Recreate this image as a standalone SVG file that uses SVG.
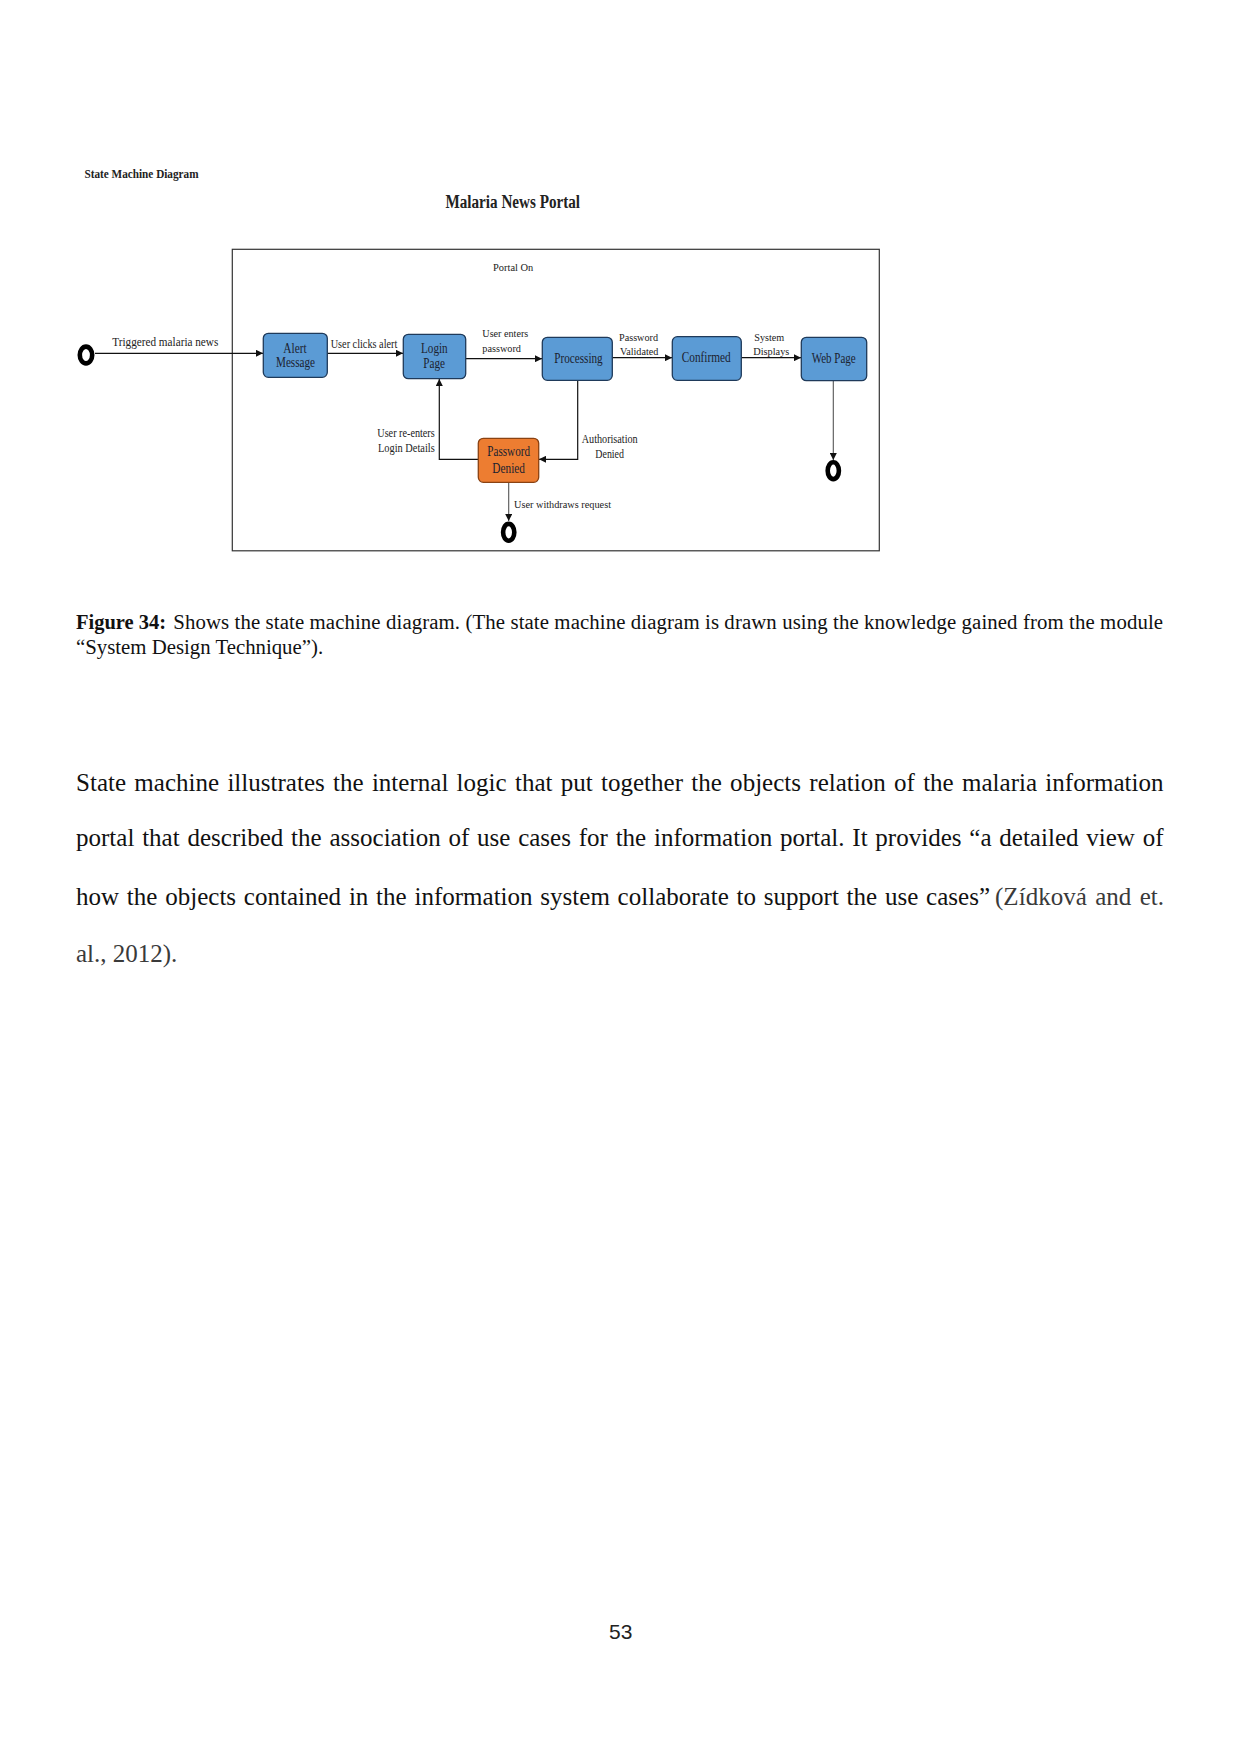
<svg xmlns="http://www.w3.org/2000/svg" width="1241" height="1754" viewBox="0 0 1241 1754">
<style>
.dg{font-family:"Liberation Serif","Times New Roman",serif;fill:#222}
.nl{font-size:14px;fill:#1b2230}
.state{fill:#5b9bd5;stroke:#1f3a5a;stroke-width:1.3}
.deny{fill:#ed7d31;stroke:#8a4212;stroke-width:1.3}
.conn{fill:none;stroke:#111;stroke-width:1.2}
.conng{fill:none;stroke:#555;stroke-width:1.1}
.body{font-family:"Liberation Serif","Times New Roman",serif;fill:#111}
.ring{fill:#fff;stroke:#000;stroke-width:4.6}
</style>
<defs>
<marker id="ah" markerUnits="userSpaceOnUse" markerWidth="7" markerHeight="7" refX="7" refY="3.5" orient="auto">
<path d="M0,0 L7,3.5 L0,7 z" fill="#111"/>
</marker>
</defs>
<rect width="1241" height="1754" fill="#fff"/>

<text class="dg" x="84.5" y="178.3" font-size="12.5" font-weight="bold" textLength="114" lengthAdjust="spacingAndGlyphs">State Machine Diagram</text>
<text class="dg" x="445.5" y="208.3" font-size="18.5" font-weight="bold" textLength="134.5" lengthAdjust="spacingAndGlyphs">Malaria News Portal</text>

<g id="frame">
<rect x="232.3" y="249.3" width="647" height="301.5" fill="none" stroke="#333" stroke-width="1.2"/>
<text class="dg" x="493" y="270.7" font-size="11" textLength="40.3" lengthAdjust="spacingAndGlyphs">Portal On</text>
</g>

<g id="connectors">
<path class="conn" d="M95,353.3 H263" marker-end="url(#ah)"/>
<path class="conn" d="M327.3,353.3 H403" marker-end="url(#ah)"/>
<path class="conn" d="M465.7,358.7 H542" marker-end="url(#ah)"/>
<path class="conn" d="M612.3,357.7 H672" marker-end="url(#ah)"/>
<path class="conn" d="M741.3,357.7 H801" marker-end="url(#ah)"/>
<path class="conn" d="M577.7,380.3 V459.3 H539" marker-end="url(#ah)"/>
<path class="conn" d="M478.3,459.3 H439.3 V379" marker-end="url(#ah)"/>
<path class="conng" d="M508.7,482.3 V521" marker-end="url(#ah)"/>
<path class="conng" d="M833.3,380.7 V460" marker-end="url(#ah)"/>
<text class="dg" x="112.3" y="345.7" font-size="12.5" textLength="106" lengthAdjust="spacingAndGlyphs">Triggered malaria news</text>
<text class="dg" x="330.7" y="348.3" font-size="11.5" textLength="66.6" lengthAdjust="spacingAndGlyphs">User clicks alert</text>
<text class="dg" x="482.3" y="337.3" font-size="10.5" textLength="46" lengthAdjust="spacingAndGlyphs">User enters</text>
<text class="dg" x="482.3" y="351.7" font-size="10.5" textLength="38.7" lengthAdjust="spacingAndGlyphs">password</text>
<text class="dg" x="619" y="340.7" font-size="11" textLength="39" lengthAdjust="spacingAndGlyphs">Password</text>
<text class="dg" x="620" y="355.2" font-size="11" textLength="38.3" lengthAdjust="spacingAndGlyphs">Validated</text>
<text class="dg" x="754.3" y="340.7" font-size="11" textLength="30" lengthAdjust="spacingAndGlyphs">System</text>
<text class="dg" x="753.3" y="355.2" font-size="11" textLength="36" lengthAdjust="spacingAndGlyphs">Displays</text>
<text class="dg" x="581.7" y="443.3" font-size="11.5" textLength="56" lengthAdjust="spacingAndGlyphs">Authorisation</text>
<text class="dg" x="595.3" y="457.7" font-size="11.5" textLength="28.7" lengthAdjust="spacingAndGlyphs">Denied</text>
<text class="dg" x="377.3" y="436.7" font-size="11.5" textLength="57.4" lengthAdjust="spacingAndGlyphs">User re-enters</text>
<text class="dg" x="378" y="452" font-size="11.5" textLength="56.7" lengthAdjust="spacingAndGlyphs">Login Details</text>
<text class="dg" x="514" y="508.3" font-size="10.5" textLength="97" lengthAdjust="spacingAndGlyphs">User withdraws request</text>
</g>

<g id="initial">
<ellipse class="ring" cx="86" cy="355" rx="6.2" ry="8.4"/>
</g>

<g id="alert-message">
<rect class="state" x="263.3" y="333.3" width="64" height="44" rx="5"/>
<text class="dg nl" x="283.3" y="352.7" textLength="23.4" lengthAdjust="spacingAndGlyphs">Alert</text>
<text class="dg nl" x="276" y="366.7" textLength="39" lengthAdjust="spacingAndGlyphs">Message</text>
</g>

<g id="login-page">
<rect class="state" x="403.3" y="334.3" width="62.4" height="44.4" rx="5"/>
<text class="dg nl" x="421" y="353.3" textLength="26.7" lengthAdjust="spacingAndGlyphs">Login</text>
<text class="dg nl" x="423.3" y="367.5" textLength="21.7" lengthAdjust="spacingAndGlyphs">Page</text>
</g>

<g id="processing">
<rect class="state" x="542.3" y="337.3" width="70" height="43" rx="5"/>
<text class="dg nl" x="554.3" y="363.3" textLength="48.4" lengthAdjust="spacingAndGlyphs">Processing</text>
</g>

<g id="confirmed">
<rect class="state" x="672.3" y="336.7" width="69" height="43.6" rx="5"/>
<text class="dg nl" x="681.7" y="362.3" textLength="49" lengthAdjust="spacingAndGlyphs">Confirmed</text>
</g>

<g id="web-page">
<rect class="state" x="801.3" y="337.3" width="65.4" height="43.4" rx="5"/>
<text class="dg nl" x="811.7" y="363.3" textLength="44" lengthAdjust="spacingAndGlyphs">Web Page</text>
</g>

<g id="password-denied">
<rect class="deny" x="478.3" y="438.3" width="60.4" height="44" rx="5"/>
<text class="dg nl" x="487.3" y="456" textLength="42.7" lengthAdjust="spacingAndGlyphs">Password</text>
<text class="dg nl" x="492.3" y="472.7" textLength="32.7" lengthAdjust="spacingAndGlyphs">Denied</text>
</g>

<g id="final-denied">
<ellipse class="ring" cx="508.7" cy="532.3" rx="5.6" ry="8.4"/>
</g>

<g id="final-web">
<ellipse class="ring" cx="833.3" cy="470.7" rx="5.6" ry="8.4"/>
</g>

<g id="caption">
<text class="body" x="76" y="629.3" font-size="20.8" font-weight="bold" textLength="90" lengthAdjust="spacingAndGlyphs">Figure 34:</text>
<text class="body" x="173.3" y="629.3" font-size="20.8" textLength="989.7" lengthAdjust="spacing">Shows the state machine diagram. (The state machine diagram is drawn using the knowledge gained from the module</text>
<text class="body" x="76" y="654" font-size="20.8">“System Design Technique”).</text>
</g>

<g id="paragraph">
<text class="body" x="76" y="790.7" font-size="25" word-spacing="2" textLength="1087.5" lengthAdjust="spacing">State machine illustrates the internal logic that put together the objects relation of the malaria information</text>
<text class="body" x="76" y="846" font-size="25" word-spacing="1.5" textLength="1087.5" lengthAdjust="spacing">portal that described the association of use cases for the information portal. It provides “a detailed view of</text>
<text class="body" x="76" y="905" font-size="25" word-spacing="1.5" textLength="914" lengthAdjust="spacing">how the objects contained in the information system collaborate to support the use cases”</text>
<text class="body" x="995" y="905" font-size="25" style="fill:#3a3a3a" word-spacing="2" textLength="169" lengthAdjust="spacing">(Zídková and et.</text>
<text class="body" x="76" y="961.5" font-size="25" style="fill:#3a3a3a">al., 2012).</text>
</g>

<text x="609" y="1639" font-family="Liberation Sans, Arial, sans-serif" font-size="21" fill="#222">53</text>
</svg>
